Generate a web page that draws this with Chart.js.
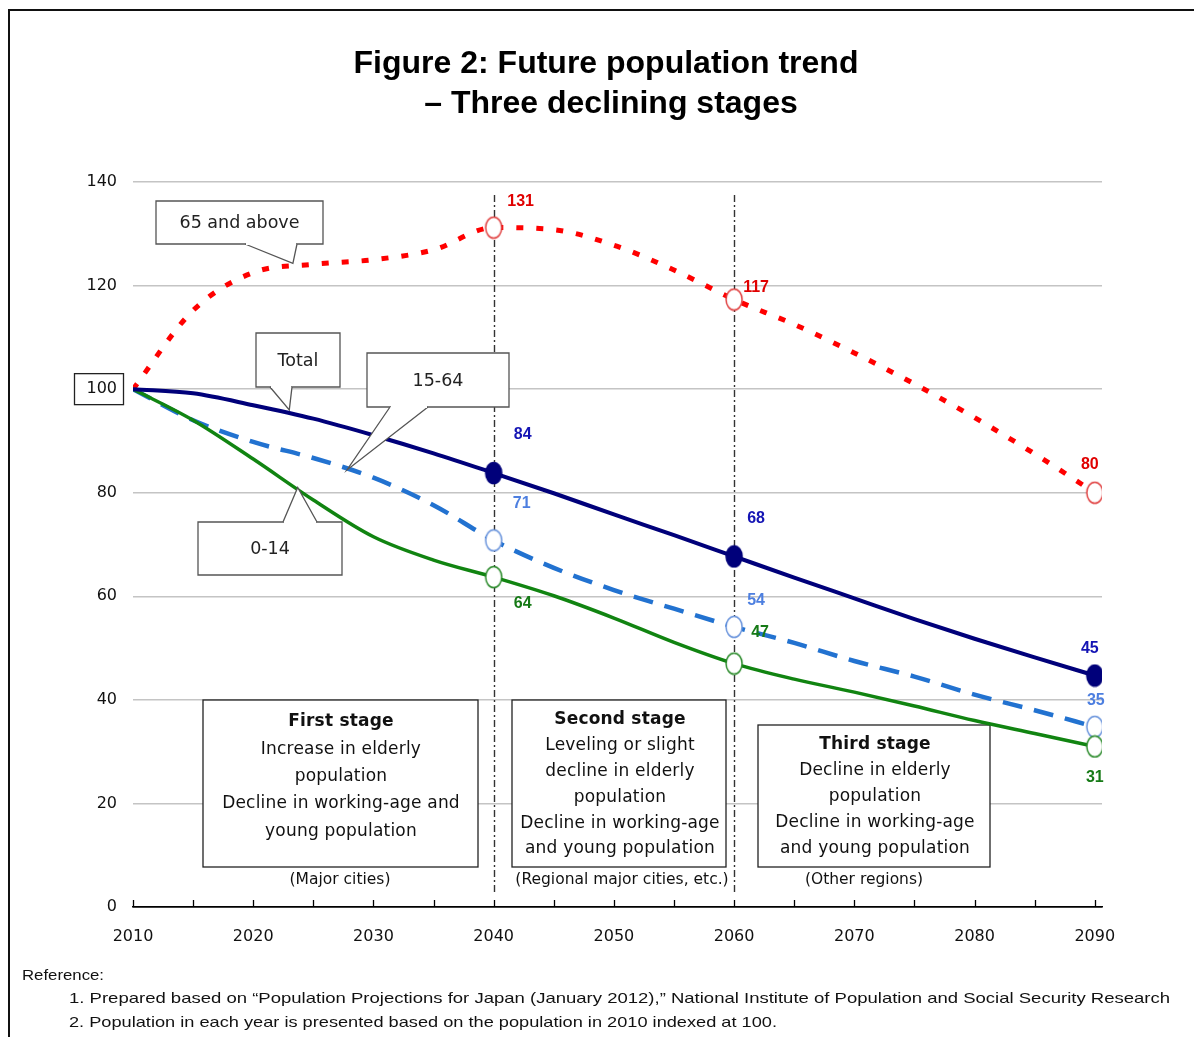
<!DOCTYPE html>
<html>

<head>
  <meta charset="UTF-8">
  <title>Future population trend</title>
  <script src="https://cdn.jsdelivr.net/npm/chart.js"></script>
  <style>
    body {
      margin: 0;
      background: #fff;
    }

    canvas {
      display: block;
    }
  </style>
</head>

<body>
  <canvas id="popChart" width="1194" height="1037"></canvas>

  <script>
    // data (2010 = 100)
    const years = [2010, 2015, 2020, 2025, 2030, 2035, 2040, 2045, 2050, 2055, 2060, 2065, 2070, 2075, 2080, 2085, 2090];
    const total = [100, 99.2, 96.9, 94.3, 91.1, 87.6, 83.8, 79.9, 75.8, 71.8, 67.7, 63.6, 59.6, 55.6, 51.8, 48.2, 44.7];
    const age65 = [100, 115.2, 122.5, 124.1, 125.0, 126.9, 131.2, 130.8, 127.8, 123.0, 117.3, 112.5, 107.0, 101.0, 94.5, 87.5, 80.0];
    const age1564 = [100, 94.0, 89.8, 86.7, 82.9, 77.6, 70.8, 65.5, 61.2, 57.6, 54.1, 51.0, 47.5, 44.5, 41.0, 38.0, 34.8];
    const age014 = [100, 94.0, 86.5, 78.6, 71.5, 67.0, 63.7, 60.1, 55.8, 51.1, 47.0, 44.0, 41.5, 38.8, 36.0, 33.5, 31.0];
    const markerYears = [2040, 2060, 2090];
    const tickYears = [2010, 2020, 2030, 2040, 2050, 2060, 2070, 2080, 2090];
    const yTicks = [0, 20, 40, 60, 80, 100, 120, 140];

    function ellipseMarker(fill, stroke) {
      const c = document.createElement('canvas');
      c.width = 20;
      c.height = 24;
      const g = c.getContext('2d');
      g.beginPath();
      g.ellipse(10, 12, 8, 10.5, 0, 0, Math.PI * 2);
      g.fillStyle = fill;
      g.fill();
      g.lineWidth = 1.5;
      g.strokeStyle = stroke;
      g.stroke();
      return c;
    }

    function isMarker(ctx) {
      return markerYears.includes(years[ctx.dataIndex]);
    }

    function series(label, values, color, width, dash, marker, labelColor, offsets, order) {
      return {
        label: label,
        data: years.map((y, i) => ({ x: y, y: values[i] })),
        borderColor: color,
        borderWidth: width,
        borderDash: dash,
        borderCapStyle: 'butt',
        cubicInterpolationMode: 'monotone',
        pointStyle: ctx => isMarker(ctx) ? marker : 'circle',
        pointRadius: ctx => isMarker(ctx) ? 10 : 0,
        labelColor: labelColor,
        labelOffsets: offsets,
        order: order
      };
    }

    const stageBoxes = [
      { x1: 203, y1: 700, x2: 478, y2: 867, cx: 341, lines: ['First stage', 'Increase in elderly', 'population', 'Decline in working-age and', 'young population'], top: 722, step: 27.3, caption: '(Major cities)', capX: 340 },
      { x1: 512, y1: 700, x2: 726, y2: 867, cx: 620, lines: ['Second stage', 'Leveling or slight', 'decline in elderly', 'population', 'Decline in working-age', 'and young population'], top: 720, step: 25.8, caption: '(Regional major cities, etc.)', capX: 622 },
      { x1: 758, y1: 725, x2: 990, y2: 867, cx: 875, lines: ['Third stage', 'Decline in elderly', 'population', 'Decline in working-age', 'and young population'], top: 745, step: 26, caption: '(Other regions)', capX: 864 }
    ];

    // callouts: box in px, pointer base in px, tip in data coords
    const callouts = [
      { text: '65 and above', x1: 156, y1: 201, x2: 323, y2: 244, base: [[245, 244], [297, 244]], tip: [2023.3, 124.3] },
      { text: 'Total', x1: 256, y1: 333, x2: 340, y2: 387, base: [[270, 387], [292, 387]], tip: [2023.0, 96.0] },
      { text: '15-64', x1: 367, y1: 353, x2: 509, y2: 407, base: [[390, 407], [428, 407]], tip: [2027.8, 84.4] },
      { text: '0-14', x1: 198, y1: 522, x2: 342, y2: 575, base: [[283, 522], [317, 522]], tip: [2023.7, 81.0] }
    ];

    const overlay = {
      id: 'overlay',
      beforeDatasetsDraw(chart) {
        const ctx = chart.ctx;
        const xs = chart.scales.x, ys = chart.scales.y;
        ctx.save();
        // stage boxes
        stageBoxes.forEach(b => {
          ctx.fillStyle = '#fff';
          ctx.fillRect(b.x1, b.y1, b.x2 - b.x1, b.y2 - b.y1);
          ctx.strokeStyle = '#222';
          ctx.lineWidth = 1.3;
          ctx.strokeRect(b.x1, b.y1, b.x2 - b.x1, b.y2 - b.y1);
          ctx.textAlign = 'center';
          ctx.textBaseline = 'middle';
          ctx.letterSpacing = '0.2px';
          b.lines.forEach((t, i) => {
            ctx.font = (i === 0 ? 'bold ' : '') + '17px "DejaVu Sans", sans-serif';
            ctx.fillStyle = '#111';
            ctx.fillText(t, b.cx, b.top + i * b.step);
          });
          ctx.font = '15.5px "DejaVu Sans", sans-serif';
          ctx.letterSpacing = '0px';
          ctx.fillText(b.caption, b.capX, 880);
        });
        // dash-dot dividers at 2040 and 2060
        ctx.strokeStyle = '#333';
        ctx.lineWidth = 1.4;
        ctx.setLineDash([7, 3, 2, 3]);
        [2040, 2060].forEach(y => {
          const px = Math.round(xs.getPixelForValue(y)) + 0.5;
          ctx.beginPath();
          ctx.moveTo(px, ys.getPixelForValue(137.5));
          ctx.lineTo(px, ys.getPixelForValue(2.5));
          ctx.stroke();
        });
        ctx.restore();
      },
      afterDatasetsDraw(chart) {
        const ctx = chart.ctx;
        const xs = chart.scales.x, ys = chart.scales.y;
        ctx.save();
        // value labels at the markers
        ctx.font = 'bold 16px "Liberation Sans", Arial, sans-serif';
        ctx.textAlign = 'center';
        ctx.textBaseline = 'middle';
        chart.data.datasets.forEach((ds, di) => {
          const meta = chart.getDatasetMeta(di);
          markerYears.forEach((yr, k) => {
            const i = years.indexOf(yr);
            const pt = meta.data[i];
            const off = ds.labelOffsets[k];
            ctx.fillStyle = ds.labelColor;
            ctx.fillText(Math.round(ds.data[i].y), pt.x + off[0], pt.y + off[1]);
          });
        });
        // callouts
        callouts.forEach(c => {
          const tx = xs.getPixelForValue(c.tip[0]);
          const ty = ys.getPixelForValue(c.tip[1]);
          ctx.fillStyle = '#fff';
          ctx.strokeStyle = '#555';
          ctx.lineWidth = 1.3;
          ctx.beginPath();
          ctx.rect(c.x1, c.y1, c.x2 - c.x1, c.y2 - c.y1);
          ctx.fill();
          ctx.stroke();
          ctx.beginPath();
          ctx.moveTo(c.base[0][0], c.base[0][1]);
          ctx.lineTo(tx, ty);
          ctx.lineTo(c.base[1][0], c.base[1][1]);
          ctx.fill();
          ctx.stroke();
          // hide the box edge inside the pointer
          ctx.beginPath();
          ctx.moveTo(c.base[0][0] + 1, c.base[0][1]);
          ctx.lineTo(c.base[1][0] - 1, c.base[1][1]);
          ctx.strokeStyle = '#fff';
          ctx.lineWidth = 2;
          ctx.stroke();
          ctx.fillStyle = '#222';
          ctx.font = '17.5px "DejaVu Sans", sans-serif';
          ctx.fillText(c.text, (c.x1 + c.x2) / 2, (c.y1 + c.y2) / 2 + 1);
        });
        // small ticks on the x axis, pointing up, every 5 years
        ctx.strokeStyle = '#000';
        ctx.lineWidth = 1.3;
        for (let yr = 2010; yr <= 2090; yr += 5) {
          const px = Math.round(xs.getPixelForValue(yr)) + 0.5;
          ctx.beginPath();
          ctx.moveTo(px, ys.bottom);
          ctx.lineTo(px, ys.bottom - 7);
          ctx.stroke();
        }
        // box round the 100 label
        const y100 = ys.getPixelForValue(100);
        ctx.strokeStyle = '#222';
        ctx.strokeRect(74.5, y100 - 15.5, 49, 31);
        ctx.restore();
      },
      afterDraw(chart) {
        const ctx = chart.ctx;
        ctx.save();
        // frame
        ctx.strokeStyle = '#111';
        ctx.lineWidth = 2;
        ctx.beginPath();
        ctx.moveTo(9, 1037);
        ctx.lineTo(9, 10);
        ctx.lineTo(1194, 10);
        ctx.stroke();
        // title
        ctx.fillStyle = '#000';
        ctx.textAlign = 'center';
        ctx.textBaseline = 'middle';
        ctx.font = 'bold 32px "Liberation Sans", Arial, sans-serif';
        ctx.fillText('Figure 2: Future population trend', 606, 64);
        ctx.fillText('\u2013 Three declining stages', 611, 104);
        // footnotes
        ctx.textAlign = 'left';
        ctx.font = '15px "Liberation Sans", Arial, sans-serif';
        ctx.fillStyle = '#111';
        const notes = [
          ['Reference:', 22, 976, 82],
          ['1. Prepared based on \u201cPopulation Projections for Japan (January 2012),\u201d National Institute of Population and Social Security Research', 69, 999, 1101],
          ['2. Population in each year is presented based on the population in 2010 indexed at 100.', 69, 1023, 708]
        ];
        notes.forEach(n => {
          const w = ctx.measureText(n[0]).width;
          ctx.save();
          ctx.translate(n[1], n[2]);
          ctx.scale(n[3] / w, 1);
          ctx.fillText(n[0], 0, 0);
          ctx.restore();
        });
        ctx.restore();
      }
    };

    const ctx = document.getElementById('popChart').getContext('2d');
    new Chart(ctx, {
      type: 'line',
      data: {
        datasets: [
          series('Total', total, '#00007a', 4, [], ellipseMarker('#00007a', '#00007a'), '#1414b4', [[29, -38], [22, -38], [-5, -27]], 1),
          series('0-14', age014, '#118411', 3.5, [], ellipseMarker('#fff', '#2a8a2a'), '#167a16', [[29, 26], [26, -31], [0, 31]], 2),
          series('15-64', age1564, '#2272d0', 4.5, [20, 12], ellipseMarker('#fff', '#6a94dc'), '#4d7fe0', [[28, -37], [22, -26], [1, -26]], 3),
          series('65 and above', age65, '#ff0000', 5, [7, 13], ellipseMarker('#fff', '#e04040'), '#e00000', [[27, -26], [22, -12], [-5, -28]], 4)
        ]
      },
      options: {
        responsive: false,
        animation: false,
        events: [],
        layout: {
          padding: { top: 182, right: 92, bottom: 90, left: 0 }
        },
        plugins: {
          legend: { display: false },
          tooltip: { enabled: false }
        },
        scales: {
          x: {
            type: 'linear',
            min: 2010,
            max: 2090.6,
            afterBuildTicks: scale => {
              scale.ticks = tickYears.map(v => ({ value: v }));
            },
            afterFit: scale => {
              scale.height = 40;
            },
            grid: { display: false, drawTicks: false },
            border: { display: true, color: '#000', width: 1.5 },
            ticks: {
              padding: 20,
              color: '#111',
              font: { family: '"DejaVu Sans", sans-serif', size: 16 },
              callback: v => String(v)
            }
          },
          y: {
            min: 0,
            max: 140,
            afterBuildTicks: scale => {
              scale.ticks = yTicks.map(v => ({ value: v }));
            },
            afterFit: scale => {
              scale.width = 133;
            },
            grid: {
              drawTicks: false,
              color: c => c.tick.value === 0 ? '#000' : '#c4c4c4',
              lineWidth: 1.5
            },
            border: { display: false },
            ticks: {
              padding: 16,
              color: '#111',
              font: { family: '"DejaVu Sans", sans-serif', size: 16 }
            }
          }
        }
      },
      plugins: [overlay]
    });
  </script>
</body>

</html>
